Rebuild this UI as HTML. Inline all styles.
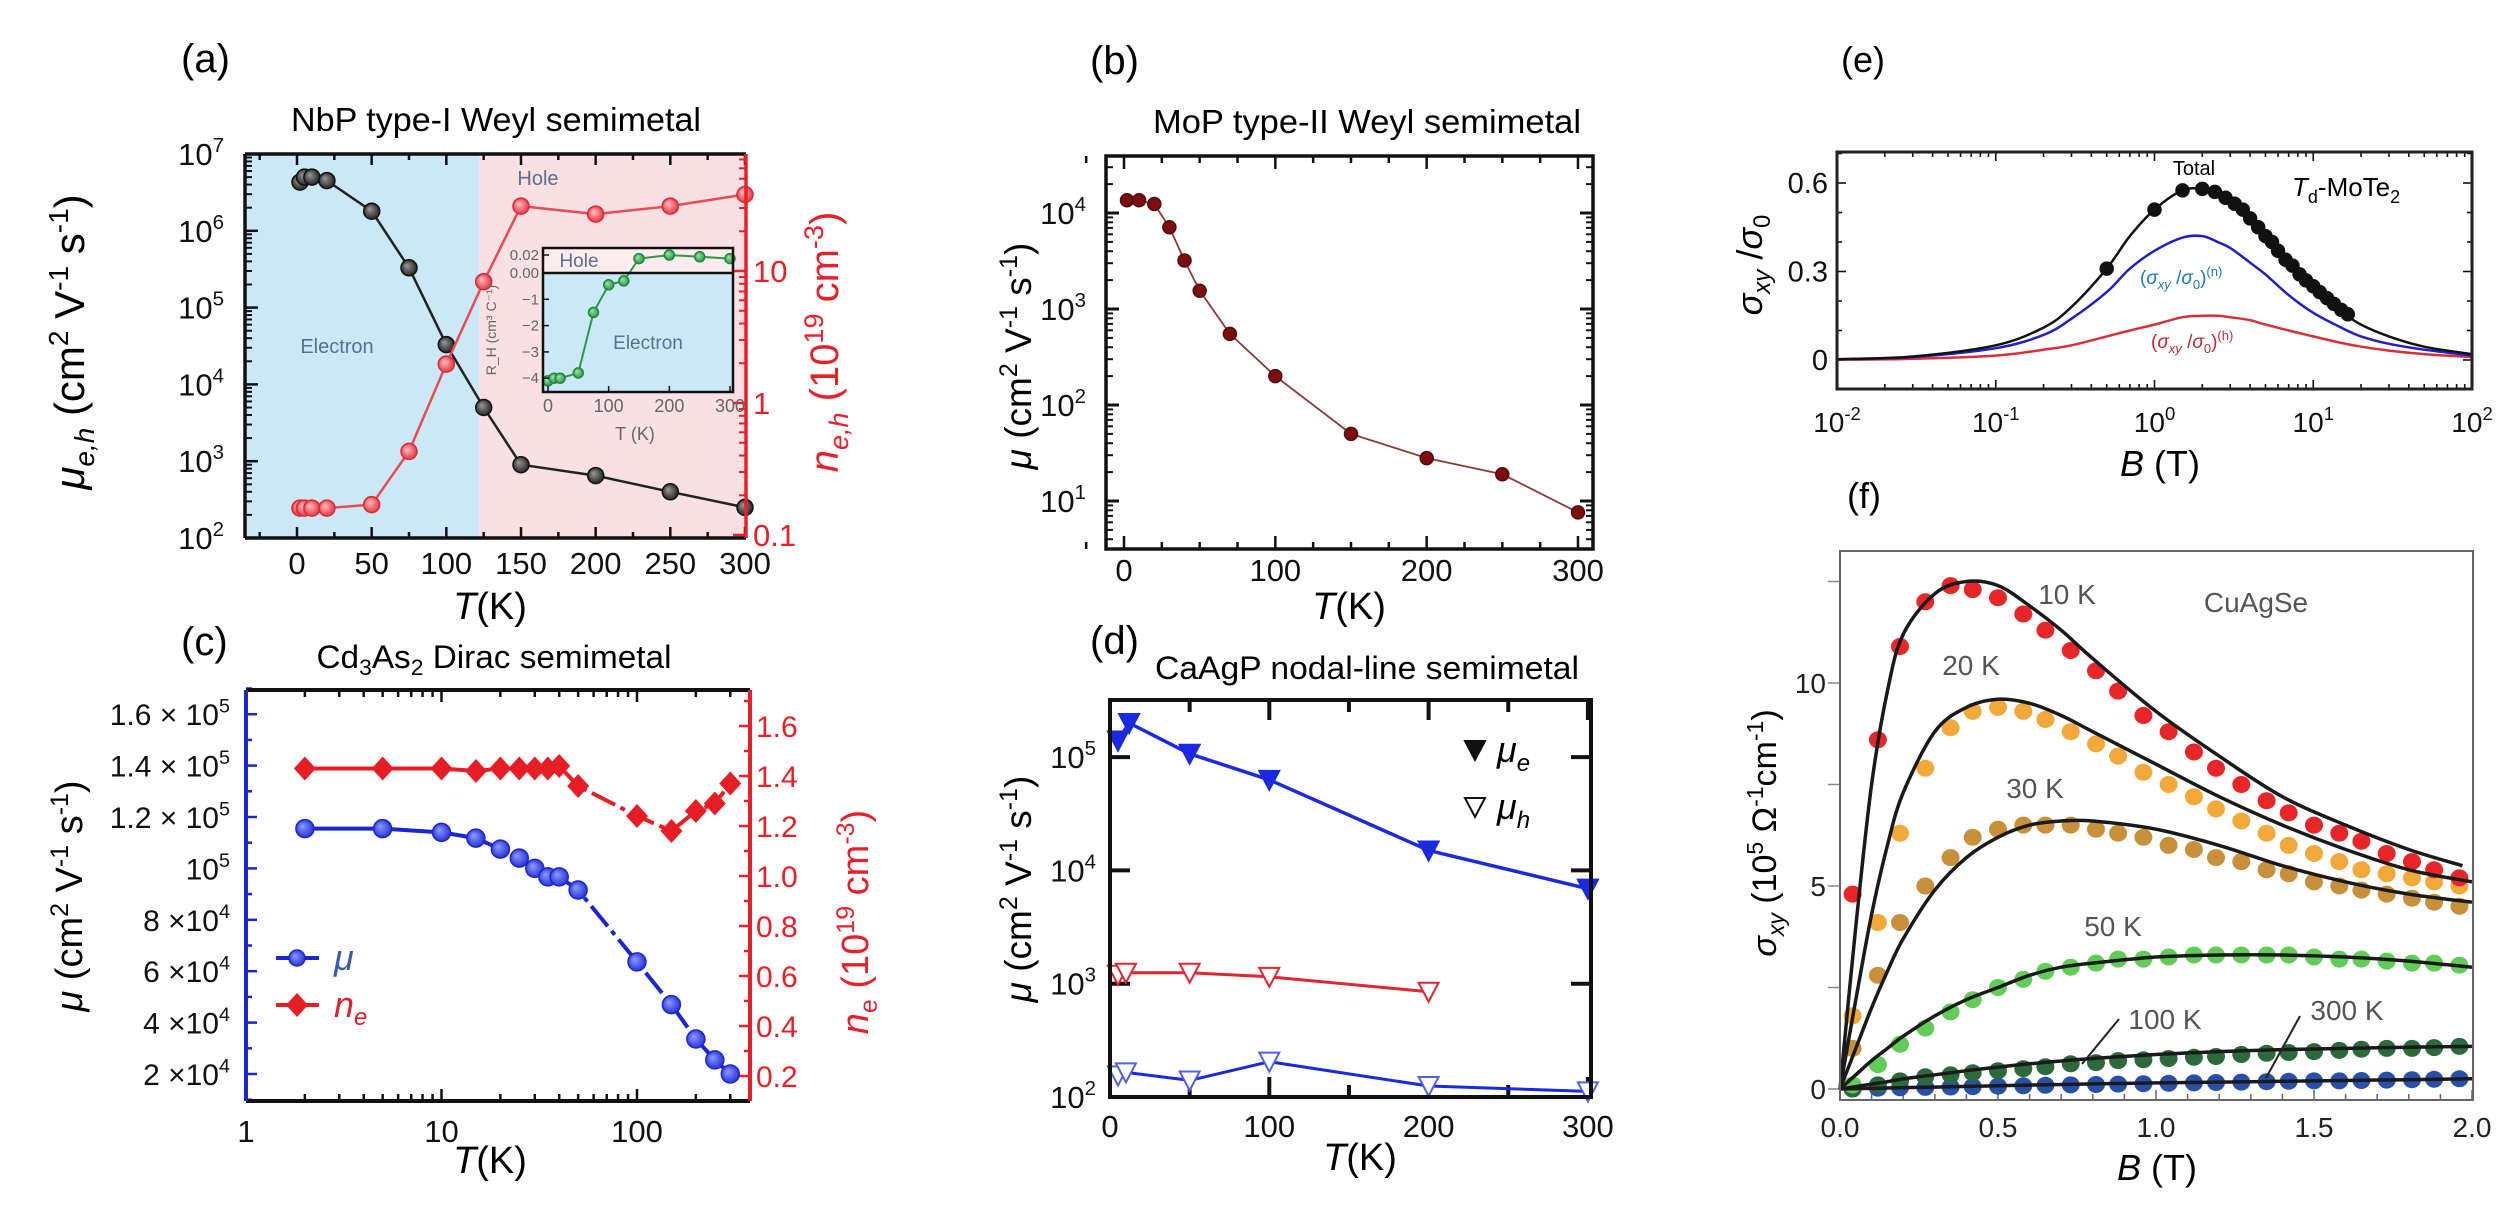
<!DOCTYPE html>
<html><head><meta charset="utf-8"><title>Semimetal mobility figure</title>
<style>
html,body{margin:0;padding:0;background:#fff;}
svg{display:block;font-family:"Liberation Sans",sans-serif;}
</style></head>
<body>
<svg id="fig" xmlns="http://www.w3.org/2000/svg" width="2518" height="1220" viewBox="0 0 2518 1220">
<defs>
<radialGradient id="gBlack" cx="0.5" cy="0.5" r="0.6" fx="0.35" fy="0.35"><stop offset="0" stop-color="#9a9a9a"/><stop offset="1" stop-color="#151515"/></radialGradient>
<radialGradient id="gRed" cx="0.5" cy="0.5" r="0.6" fx="0.35" fy="0.35"><stop offset="0" stop-color="#ffc0c0"/><stop offset="1" stop-color="#e02634"/></radialGradient>
<radialGradient id="gGreen" cx="0.5" cy="0.5" r="0.6" fx="0.35" fy="0.35"><stop offset="0" stop-color="#9fe8a8"/><stop offset="1" stop-color="#1f8a40"/></radialGradient>
<radialGradient id="gBlue" cx="0.5" cy="0.5" r="0.6" fx="0.35" fy="0.35"><stop offset="0" stop-color="#8f9cff"/><stop offset="1" stop-color="#1a26d0"/></radialGradient>
</defs>

<g id="pa">
  <rect x="245" y="154" width="234" height="384" fill="#cbe8f6"/>
  <rect x="479" y="154" width="267" height="384" fill="#f8e0e3"/>
  <text x="181" y="72" font-size="40">(a)</text>
  <text x="496" y="131" font-size="33" text-anchor="middle" textLength="410" lengthAdjust="spacingAndGlyphs">NbP type-I Weyl semimetal</text>
  <text x="337" y="353" font-size="20" fill="#5b6f96" text-anchor="middle">Electron</text>
  <text x="538" y="185" font-size="20" fill="#5b6f96" text-anchor="middle">Hole</text>
  <text transform="translate(84,342) rotate(-90)" font-size="42" text-anchor="middle"><tspan font-style="italic">μ</tspan><tspan font-size="28" dy="10" font-style="italic">e,h</tspan><tspan dy="-10"> (cm</tspan><tspan font-size="28" dy="-16">2</tspan><tspan dy="16"> V</tspan><tspan font-size="28" dy="-16">-1</tspan><tspan dy="16"> s</tspan><tspan font-size="28" dy="-16">-1</tspan><tspan dy="16">)</tspan></text>
  <text transform="translate(838,342) rotate(-90)" font-size="40" fill="#e8202a" text-anchor="middle"><tspan font-style="italic">n</tspan><tspan font-size="27" dy="10" font-style="italic">e,h</tspan><tspan dy="-10"> (10</tspan><tspan font-size="27" dy="-15">19</tspan><tspan dy="15"> cm</tspan><tspan font-size="27" dy="-15">-3</tspan><tspan dy="15">)</tspan></text>
  <text x="490" y="619" font-size="38" text-anchor="middle"><tspan font-style="italic">T</tspan>(K)</text>
</g>

<g id="pb">
  <text x="1090" y="74" font-size="40">(b)</text>
  <text x="1367" y="133" font-size="33" text-anchor="middle" textLength="428" lengthAdjust="spacingAndGlyphs">MoP type-II Weyl semimetal</text>
  <text transform="translate(1031,356) rotate(-90)" font-size="37" text-anchor="middle"><tspan font-style="italic">μ</tspan> (cm<tspan font-size="25" dy="-14">2</tspan><tspan dy="14"> V</tspan><tspan font-size="25" dy="-14">-1</tspan><tspan dy="14"> s</tspan><tspan font-size="25" dy="-14">-1</tspan><tspan dy="14">)</tspan></text>
  <text x="1349" y="619" font-size="38" text-anchor="middle"><tspan font-style="italic">T</tspan>(K)</text>
</g>

<g id="pc">
  <text x="181" y="655" font-size="40">(c)</text>
  <text x="494" y="668" font-size="32" text-anchor="middle" textLength="355" lengthAdjust="spacingAndGlyphs">Cd<tspan font-size="22" dy="7">3</tspan><tspan dy="-7">As</tspan><tspan font-size="22" dy="7">2</tspan><tspan dy="-7"> Dirac semimetal</tspan></text>
  <text transform="translate(82,896) rotate(-90)" font-size="38" text-anchor="middle"><tspan font-style="italic">μ</tspan> (cm<tspan font-size="25" dy="-14">2</tspan><tspan dy="14"> V</tspan><tspan font-size="25" dy="-14">-1</tspan><tspan dy="14"> s</tspan><tspan font-size="25" dy="-14">-1</tspan><tspan dy="14">)</tspan></text>
  <text transform="translate(868,922) rotate(-90)" font-size="38" fill="#e8202a" text-anchor="middle"><tspan font-style="italic">n</tspan><tspan font-size="25" dy="9">e</tspan><tspan dy="-9"> (10</tspan><tspan font-size="25" dy="-14">19</tspan><tspan dy="14"> cm</tspan><tspan font-size="25" dy="-14">-3</tspan><tspan dy="14">)</tspan></text>
  <text x="490" y="1173" font-size="38" text-anchor="middle"><tspan font-style="italic">T</tspan>(K)</text>
</g>

<g id="pd">
  <text x="1090" y="654" font-size="40">(d)</text>
  <text x="1367" y="679" font-size="32" text-anchor="middle" textLength="424" lengthAdjust="spacingAndGlyphs">CaAgP nodal-line semimetal</text>
  <text transform="translate(1031,889) rotate(-90)" font-size="37" text-anchor="middle"><tspan font-style="italic">μ</tspan> (cm<tspan font-size="25" dy="-14">2</tspan><tspan dy="14"> V</tspan><tspan font-size="25" dy="-14">-1</tspan><tspan dy="14"> s</tspan><tspan font-size="25" dy="-14">-1</tspan><tspan dy="14">)</tspan></text>
  <text x="1360" y="1170" font-size="38" text-anchor="middle"><tspan font-style="italic">T</tspan>(K)</text>
  <text x="1497" y="762" font-size="36" font-style="italic">μ<tspan font-size="24" dy="9">e</tspan></text>
  <text x="1497" y="819" font-size="36" font-style="italic">μ<tspan font-size="24" dy="9">h</tspan></text>
</g>

<g id="pe">
  <text x="1841" y="72" font-size="36">(e)</text>
  <text transform="translate(1762,265) rotate(-90)" font-size="36" text-anchor="middle"><tspan font-style="italic">σ</tspan><tspan font-size="24" dy="8" font-style="italic">xy</tspan><tspan dy="-8"> /</tspan><tspan font-style="italic">σ</tspan><tspan font-size="24" dy="8">0</tspan></text>
  <text x="2160" y="476" font-size="36" text-anchor="middle"><tspan font-style="italic">B</tspan> (T)</text>
  <text x="2194" y="175" font-size="20" text-anchor="middle">Total</text>
  <text x="2292" y="196" font-size="26"><tspan font-style="italic">T</tspan><tspan font-size="18" dy="7">d</tspan><tspan dy="-7">-MoTe</tspan><tspan font-size="18" dy="7">2</tspan></text>
  <text x="2140" y="284" font-size="19" fill="#1b7ab0">(<tspan font-style="italic">σ</tspan><tspan font-size="13" dy="5" font-style="italic">xy</tspan><tspan dy="-5"> /</tspan><tspan font-style="italic">σ</tspan><tspan font-size="13" dy="5">0</tspan><tspan dy="-5">)</tspan><tspan font-size="13" dy="-8">(n)</tspan></text>
  <text x="2151" y="348" font-size="19" fill="#c0283a">(<tspan font-style="italic">σ</tspan><tspan font-size="13" dy="5" font-style="italic">xy</tspan><tspan dy="-5"> /</tspan><tspan font-style="italic">σ</tspan><tspan font-size="13" dy="5">0</tspan><tspan dy="-5">)</tspan><tspan font-size="13" dy="-8">(h)</tspan></text>
</g>

<g id="pf">
  <text x="1847" y="508" font-size="36">(f)</text>
  <text transform="translate(1776,833) rotate(-90)" font-size="34" text-anchor="middle"><tspan font-style="italic">σ</tspan><tspan font-size="23" dy="8" font-style="italic">xy</tspan><tspan dy="-8"> (10</tspan><tspan font-size="23" dy="-13">5</tspan><tspan dy="13">  Ω</tspan><tspan font-size="23" dy="-13">-1</tspan><tspan dy="13">cm</tspan><tspan font-size="23" dy="-13">-1</tspan><tspan dy="13">)</tspan></text>
  <text x="2157" y="1180" font-size="36" text-anchor="middle"><tspan font-style="italic">B</tspan> (T)</text>
  <text x="2256" y="612" font-size="28" fill="#555" text-anchor="middle">CuAgSe</text>
</g>

<script>
const aT   = [2, 5, 10, 20, 50, 75, 100, 125, 150, 200, 250, 300];
const aMu  = [4.3e6, 5e6, 5e6, 4.5e6, 1.8e6, 3.3e5, 3.3e4, 5e3, 9e2, 6.5e2, 4e2, 2.5e2];
const aN   = [0.16, 0.16, 0.16, 0.16, 0.17, 0.43, 1.97, 8.3, 31, 27, 31, 38];
const aXTicks = [0, 50, 100, 150, 200, 250, 300];
const aYDecades = [2, 3, 4, 5, 6, 7];
const aRTicks = ["0.1", "1", "10"];
const insetT = [0, 10, 20, 50, 75, 100, 125, 150, 200, 250, 300];
const insetR = [-4.1, -4.0, -4.0, -3.8, -1.5, -0.45, -0.3, 0.016, 0.02, 0.018, 0.016];
const bT  = [2, 10, 20, 30, 40, 50, 70, 100, 150, 200, 250, 300];
const bMu = [1.36e4, 1.36e4, 1.24e4, 7.1e3, 3.2e3, 1.55e3, 550, 200, 50, 28, 19, 7.6];
const bXTicks = [0, 100, 200, 300];
const bYDecades = [1, 2, 3, 4];
const cT  = [2, 5, 10, 15, 20, 25, 30, 35, 40, 50, 100, 150, 200, 250, 300];
const cMu = [1.155e5, 1.155e5, 1.14e5, 1.118e5, 1.075e5, 1.04e5, 1.0e5, 9.67e4, 9.67e4, 9.16e4, 6.36e4, 4.7e4, 3.36e4, 2.55e4, 2.0e4];
const cN  = [1.43, 1.43, 1.43, 1.42, 1.43, 1.43, 1.43, 1.43, 1.44, 1.36, 1.24, 1.18, 1.26, 1.29, 1.37];
const cXTicks = ["1", "10", "100"];
const cYTicks = [2e4, 4e4, 6e4, 8e4, 1e5, 1.2e5, 1.4e5, 1.6e5];
const cYLabels = ["2 ×10", "4 ×10", "6 ×10", "8 ×10", "10", "1.2 × 10", "1.4 × 10", "1.6 × 10"];
const cYExp = ["4", "4", "4", "4", "5", "5", "5", "5"];
const cRTicks = [0.2, 0.4, 0.6, 0.8, 1.0, 1.2, 1.4, 1.6];
const dTe  = [5, 12, 50, 100, 200, 300];
const dMuE = [1.4e5, 2.0e5, 1.07e5, 6.3e4, 1.5e4, 6.9e3];
const dTh1 = [5, 10, 50, 100, 200];
const dMuH1 = [1200, 1250, 1250, 1150, 850];
const dTh2 = [5, 10, 50, 100, 200, 300];
const dMuH2 = [155, 165, 140, 205, 125, 112];
const dXTicks = [0, 100, 200, 300];
const dYDecades = [2, 3, 4, 5];
const eB     = [0.01, 0.03, 0.1, 0.2, 0.3, 0.5, 0.7, 1, 1.5, 2, 2.5, 3, 4, 5, 7, 10, 15, 20, 30, 50, 100];
const eTotal = [0.003, 0.012, 0.05, 0.11, 0.18, 0.31, 0.42, 0.51, 0.575, 0.58, 0.57, 0.54, 0.48, 0.42, 0.33, 0.25, 0.165, 0.12, 0.08, 0.045, 0.02];
const eElec  = [0.002, 0.01, 0.04, 0.085, 0.14, 0.23, 0.31, 0.37, 0.415, 0.42, 0.40, 0.38, 0.33, 0.29, 0.22, 0.16, 0.11, 0.08, 0.055, 0.035, 0.015];
const eHole  = [0.001, 0.004, 0.015, 0.035, 0.05, 0.08, 0.10, 0.12, 0.145, 0.15, 0.15, 0.145, 0.135, 0.12, 0.10, 0.08, 0.058, 0.045, 0.032, 0.02, 0.01];
const eDotB  = [0.5, 1.0, 1.5, 2.0, 2.4, 2.8, 3.2, 3.6, 4.0, 4.5, 5.0, 5.5, 6.0, 6.7, 7.4, 8.2, 9.0, 10, 11, 12.2, 13.5, 15, 16.5];
const eDotV  = [0.31, 0.51, 0.575, 0.58, 0.57, 0.55, 0.53, 0.51, 0.48, 0.45, 0.42, 0.40, 0.37, 0.34, 0.32, 0.29, 0.27, 0.25, 0.23, 0.21, 0.19, 0.17, 0.155];
const eXExp = ["-2", "-1", "0", "1", "2"];
const eYTicks = [0, 0.3, 0.6];
const fFitB = [0, 0.05, 0.1, 0.15, 0.2, 0.3, 0.4, 0.5, 0.6, 0.7, 0.8, 1.0, 1.2, 1.4, 1.6, 1.8, 1.97];
const fFit10  = [0, 4, 7.5, 9.8, 11.2, 12.2, 12.5, 12.4, 11.9, 11.3, 10.6, 9.3, 8.2, 7.2, 6.5, 5.9, 5.5];
const fFit20  = [0, 2.2, 4.3, 6.0, 7.3, 8.8, 9.4, 9.6, 9.5, 9.2, 8.8, 8.0, 7.2, 6.5, 5.9, 5.4, 5.1];
const fFit30  = [0, 1.0, 2.0, 2.9, 3.7, 4.9, 5.7, 6.2, 6.5, 6.6, 6.6, 6.4, 6.0, 5.5, 5.1, 4.8, 4.6];
const fFit50  = [0, 0.35, 0.7, 1.0, 1.3, 1.8, 2.2, 2.5, 2.8, 3.0, 3.1, 3.25, 3.3, 3.3, 3.25, 3.15, 3.0];
const fFit100 = [0, 0.06, 0.12, 0.18, 0.25, 0.35, 0.45, 0.54, 0.62, 0.69, 0.75, 0.85, 0.92, 0.97, 1.0, 1.03, 1.05];
const fFit300 = [0, 0.008, 0.016, 0.024, 0.032, 0.048, 0.064, 0.08, 0.095, 0.11, 0.125, 0.15, 0.17, 0.19, 0.21, 0.23, 0.25];
const fDotB = [0.04, 0.12, 0.19, 0.27, 0.35, 0.42, 0.50, 0.58, 0.65, 0.73, 0.81, 0.88, 0.96, 1.04, 1.12, 1.19, 1.27, 1.35, 1.42, 1.50, 1.58, 1.65, 1.73, 1.81, 1.88, 1.96];
const fDot10  = [4.8, 8.6, 10.9, 12.0, 12.4, 12.3, 12.1, 11.7, 11.3, 10.8, 10.3, 9.8, 9.2, 8.8, 8.3, 7.9, 7.5, 7.1, 6.8, 6.5, 6.3, 6.1, 5.8, 5.6, 5.4, 5.2];
const fDot20  = [1.8, 4.1, 6.3, 7.9, 8.9, 9.3, 9.4, 9.3, 9.1, 8.8, 8.5, 8.2, 7.8, 7.5, 7.2, 6.9, 6.6, 6.3, 6.0, 5.8, 5.6, 5.4, 5.3, 5.2, 5.1, 5.0];
const fDot30  = [1.0, 2.8, 4.1, 5.0, 5.7, 6.2, 6.4, 6.5, 6.5, 6.5, 6.4, 6.3, 6.2, 6.0, 5.9, 5.7, 5.6, 5.4, 5.3, 5.1, 5.0, 4.9, 4.8, 4.7, 4.6, 4.5];
const fDot50  = [0.1, 0.6, 1.1, 1.5, 1.9, 2.2, 2.5, 2.7, 2.9, 3.0, 3.1, 3.2, 3.2, 3.25, 3.3, 3.3, 3.3, 3.3, 3.3, 3.25, 3.2, 3.2, 3.15, 3.1, 3.1, 3.05];
const fDot100 = [0, 0.1, 0.2, 0.3, 0.35, 0.4, 0.45, 0.5, 0.55, 0.62, 0.65, 0.7, 0.72, 0.75, 0.78, 0.8, 0.85, 0.88, 0.9, 0.92, 0.95, 0.98, 1.0, 1.0, 1.02, 1.05];
const fDot300 = [0, 0.02, 0.03, 0.04, 0.05, 0.06, 0.07, 0.08, 0.09, 0.1, 0.11, 0.12, 0.13, 0.14, 0.15, 0.16, 0.17, 0.18, 0.19, 0.2, 0.2, 0.21, 0.22, 0.23, 0.24, 0.25];
const fXTicks = ["0.0", "0.5", "1.0", "1.5", "2.0"];
const fYTicks = [0, 5, 10];

const NS = 'http://www.w3.org/2000/svg';
const L = Math.log10;
function el(tag, attrs, parent) {
  const e = document.createElementNS(NS, tag);
  for (const k in attrs) e.setAttribute(k, attrs[k]);
  parent.appendChild(e);
  return e;
}
function line(g, x1, y1, x2, y2, stroke, w, name) {
  const e = el('line', {x1: x1, y1: y1, x2: x2, y2: y2, stroke: stroke, 'stroke-width': w}, g);
  
  
  return e;
}
function txt(g, x, y, s, size, anchor, fill, name) {
  const e = el('text', {x: x, y: y, 'font-size': size, 'text-anchor': anchor, fill: fill}, g);
  e.textContent = s;
  
  
  return e;
}
function pow(g, x, y, base, ex, size, anchor, fill, name) {
  const e = el('text', {x: x, y: y, 'font-size': size, 'text-anchor': anchor, fill: fill}, g);
  const t1 = el('tspan', {}, e); t1.textContent = base;
  const t2 = el('tspan', {dy: -size * 0.42, 'font-size': size * 0.66}, e); t2.textContent = ex;
  
  
  return e;
}
function path(g, d, stroke, w, name, dash) {
  const e = el('path', {d: d, fill: 'none', stroke: stroke, 'stroke-width': w, 'stroke-linejoin': 'round'}, g);
  if (dash) e.setAttribute('stroke-dasharray', dash);
  
  
  return e;
}
function poly(pts) { return 'M' + pts.map(p => p[0].toFixed(1) + ',' + p[1].toFixed(1)).join(' L'); }
function smooth(pts) {
  let d = 'M' + pts[0][0].toFixed(1) + ',' + pts[0][1].toFixed(1);
  for (let i = 0; i < pts.length - 1; i++) {
    const p0 = pts[Math.max(i - 1, 0)], p1 = pts[i], p2 = pts[i + 1], p3 = pts[Math.min(i + 2, pts.length - 1)];
    const c1 = [p1[0] + (p2[0] - p0[0]) / 6, p1[1] + (p2[1] - p0[1]) / 6];
    const c2 = [p2[0] - (p3[0] - p1[0]) / 6, p2[1] - (p3[1] - p1[1]) / 6];
    d += ' C' + c1[0].toFixed(1) + ',' + c1[1].toFixed(1) + ' ' + c2[0].toFixed(1) + ',' + c2[1].toFixed(1) + ' ' + p2[0].toFixed(1) + ',' + p2[1].toFixed(1);
  }
  return d;
}
function circ(g, x, y, r, fill, stroke, name) {
  const e = el('circle', {cx: x.toFixed(1), cy: y.toFixed(1), r: r, fill: fill, stroke: stroke, 'stroke-width': 1.5}, g);
  
  
  return e;
}
function logMinors(d0, d1) { const out = []; for (let d = d0; d < d1; d++) for (let k = 2; k <= 9; k++) out.push(k * Math.pow(10, d)); return out; }

// (a)
{
  const g = document.getElementById('pa');
  const xa = T => 297 + T * 1.4933;
  const ya = v => 538 - (L(v) - 2) * 76.8;
  const yr = n => 535 - (L(n) + 1) * 132;
  for (let T = -25; T <= 300; T += 25) {
    const len = (T % 50 === 0) ? 11 : 6;
    line(g, xa(T), 538, xa(T), 538 - len, '#111', 2.5, 'x-tick-a');
    line(g, xa(T), 154, xa(T), 154 + len, '#111', 2.5, 'x-tick-top-a');
  }
  aXTicks.forEach(T => txt(g, xa(T), 574, String(T), 31, 'middle', '#111', 'x-tick-label-a'));
  aYDecades.forEach(d => {
    line(g, 245, ya(Math.pow(10, d)), 258, ya(Math.pow(10, d)), '#111', 2.5, 'y-tick-a');
    pow(g, 224, ya(Math.pow(10, d)) + 11, '10', String(d), 31, 'end', '#111', 'y-tick-label-a');
  });
  logMinors(2, 7).forEach(v => line(g, 245, ya(v), 252, ya(v), '#111', 2, 'y-minor-tick-a'));
  [0.1, 1, 10].forEach((n, i) => {
    line(g, 746, yr(n), 733, yr(n), '#e8202a', 2.5, 'y-right-tick-a');
    txt(g, 753, yr(n) + 11, aRTicks[i], 31, 'start', '#e8202a', 'y-right-tick-label-a');
  });
  logMinors(-1, 2).filter(n => yr(n) > 154).forEach(n => line(g, 746, yr(n), 739, yr(n), '#e8202a', 2, 'y-right-minor-tick-a'));
  path(g, poly(aT.map((t, i) => [xa(t), ya(aMu[i])])), '#222', 2.5, 'mobility-line-a');
  aT.forEach((t, i) => circ(g, xa(t), ya(aMu[i]), 8, 'url(#gBlack)', '#111', 'mobility-point-a'));
  path(g, poly(aT.map((t, i) => [xa(t), yr(aN[i])])), '#ec4a55', 2.5, 'density-line-a');
  aT.forEach((t, i) => circ(g, xa(t), yr(aN[i]), 8, 'url(#gRed)', '#e02634', 'density-point-a'));
  line(g, 245, 154, 746, 154, '#111', 3.5, 'frame-top-a');
  line(g, 245, 538, 746, 538, '#111', 3.5, 'frame-bottom-a');
  line(g, 245, 154, 245, 538, '#111', 3.5, 'frame-left-a');
  line(g, 746, 154, 746, 538, '#e8202a', 3.5, 'frame-right-a');
  const ig = el('g', {}, g);
  
  
  const xi = T => 548 + T * 0.6067;
  const yi = v => v >= 0 ? 273 - v * 900 : 273 - v * 26.3;
  const r1 = el('rect', {x: 543, y: 273, width: 190, height: 119, fill: '#cbe8f6'}, ig);
  
  
  const r2 = el('rect', {x: 543, y: 248, width: 190, height: 25, fill: '#fbecee'}, ig);
  
  
  path(ig, poly(insetT.map((t, i) => [xi(t), yi(insetR[i])])), '#2a9a4a', 2, 'inset-line');
  insetT.forEach((t, i) => circ(ig, xi(t), yi(insetR[i]), 5, 'url(#gGreen)', '#1f8a40', 'inset-point'));
  const r3 = el('rect', {x: 543, y: 248, width: 190, height: 144, fill: 'none', stroke: '#111', 'stroke-width': 2.5}, ig);
  
  
  line(ig, 543, 273, 733, 273, '#111', 2.5, 'inset-break-line');
  [['0.02', 0.02], ['0.00', 0], ['−1', -1], ['−2', -2], ['−3', -3], ['−4', -4]].forEach(p => {
    txt(ig, 539, yi(p[1]) + 5, p[0], 15, 'end', '#666', 'inset-y-tick-label');
    line(ig, 543, yi(p[1]), 549, yi(p[1]), '#111', 1.5, 'inset-y-tick');
  });
  [0, 100, 200, 300].forEach(T => {
    txt(ig, xi(T), 412, String(T), 18, 'middle', '#666', 'inset-x-tick-label');
    line(ig, xi(T), 392, xi(T), 386, '#111', 1.5, 'inset-x-tick');
  });
  txt(ig, 635, 440, 'T (K)', 18, 'middle', '#666', 'inset-x-title');
  const it = txt(ig, 0, 0, 'R_H (cm³ C⁻¹)', 14, 'middle', '#666', 'inset-y-title');
  it.setAttribute('transform', 'translate(496,330) rotate(-90)');
  txt(ig, 579, 267, 'Hole', 19, 'middle', '#5b6f96', 'inset-hole-label');
  txt(ig, 648, 349, 'Electron', 19, 'middle', '#5b6f96', 'inset-electron-label');
}

// (b)
{
  const g = document.getElementById('pb');
  const xb = T => 1124 + T * 1.5133;
  const yb = v => 213 - (L(v) - 4) * 96;
  for (let T = -25; T <= 300; T += 25) {
    const len = (T % 100 === 0) ? 13 : 7;
    line(g, xb(T), 549, xb(T), 549 - len, '#111', 2.5, 'x-tick-b');
    line(g, xb(T), 156, xb(T), 156 + len, '#111', 2.5, 'x-tick-top-b');
  }
  bXTicks.forEach(T => txt(g, xb(T), 581, String(T), 31, 'middle', '#111', 'x-tick-label-b'));
  bYDecades.forEach(d => {
    const y = yb(Math.pow(10, d));
    line(g, 1106, y, 1119, y, '#111', 3, 'y-tick-b');
    line(g, 1593, y, 1580, y, '#111', 3, 'y-tick-right-b');
    pow(g, 1086, y + 11, '10', String(d), 31, 'end', '#111', 'y-tick-label-b');
  });
  logMinors(0, 5).filter(v => yb(v) > 156 && yb(v) < 549).forEach(v => {
    line(g, 1106, yb(v), 1113, yb(v), '#111', 2, 'y-minor-tick-b');
    line(g, 1593, yb(v), 1586, yb(v), '#111', 2, 'y-minor-tick-right-b');
  });
  path(g, poly(bT.map((t, i) => [xb(t), yb(bMu[i])])), '#8b3a3a', 1.8, 'mobility-line-b');
  bT.forEach((t, i) => circ(g, xb(t), yb(bMu[i]), 6.5, '#7a0e12', '#5a0a0a', 'mobility-point-b'));
  const fr = el('rect', {x: 1106, y: 156, width: 487, height: 393, fill: 'none', stroke: '#111', 'stroke-width': 3.5}, g);
  
  
}

// (c)
{
  const g = document.getElementById('pc');
  const xc = T => 246 + L(T) * 195.5;
  const yc = v => 1074 - (v - 2e4) / 2e4 * 51.4;
  const yr = n => 1076 - (n - 0.2) * 250;
  logMinors(0, 3).concat([1, 10, 100]).filter(T => xc(T) < 750).forEach(T => {
    const major = [1, 10, 100].indexOf(T) >= 0;
    const len = major ? 12 : 7;
    line(g, xc(T), 1101, xc(T), 1101 - len, '#111', 2.5, 'x-tick-c');
    line(g, xc(T), 690, xc(T), 690 + len, '#111', 2.5, 'x-tick-top-c');
  });
  [1, 10, 100].forEach((T, i) => txt(g, xc(T), 1142, cXTicks[i], 31, 'middle', '#111', 'x-tick-label-c'));
  for (let v = 1e4; v <= 1.7e5; v += 1e4) {
    const major = Math.round(v / 1e4) % 2 === 0;
    line(g, 246, yc(v), 246 + (major ? 11 : 6), yc(v), '#1a26d0', 2.5, 'y-tick-c');
  }
  cYTicks.forEach((v, i) => pow(g, 230, yc(v) + 11, cYLabels[i], cYExp[i], 30, 'end', '#111', 'y-tick-label-c'));
  for (let n = 1; n <= 17; n++) {
    const v = n / 10;
    line(g, 750, yr(v), 750 - (n % 2 === 0 ? 11 : 6), yr(v), '#e8202a', 2.5, 'y-right-tick-c');
  }
  cRTicks.forEach(n => txt(g, 756, yr(n) + 11, n.toFixed(1), 30, 'start', '#e8202a', 'y-right-tick-label-c'));
  const muPts = cT.map((t, i) => [xc(t), yc(cMu[i])]);
  path(g, poly(muPts.slice(0, 3)), '#1a26d0', 4, 'mobility-line-c');
  path(g, poly(muPts.slice(2)), '#1a26d0', 4, 'mobility-line-dashed-c', '26,6,5,6');
  cT.forEach((t, i) => circ(g, xc(t), yc(cMu[i]), 9, 'url(#gBlue)', '#1a26d0', 'mobility-point-c'));
  const nPts = cT.map((t, i) => [xc(t), yr(cN[i])]);
  path(g, poly(nPts.slice(0, 9)), '#e51e25', 4, 'density-line-c');
  path(g, poly(nPts.slice(8)), '#e51e25', 4, 'density-line-dashed-c', '26,6,5,6');
  cT.forEach((t, i) => {
    const x = xc(t), y = yr(cN[i]);
    const d = el('path', {d: `M${x},${y - 12} L${x + 11},${y} L${x},${y + 12} L${x - 11},${y} Z`, fill: '#e51e25'}, g);
    
    
  });
  line(g, 276, 958, 319, 958, '#1a26d0', 4, 'legend-mu-line');
  circ(g, 297, 958, 8, 'url(#gBlue)', '#1a26d0', 'legend-mu-marker');
  const lm = txt(g, 334, 970, 'μ', 36, 'start', '#3a5ab0', 'legend-mu-label');
  lm.setAttribute('font-style', 'italic');
  line(g, 276, 1005, 319, 1005, '#e51e25', 4, 'legend-ne-line');
  const ld = el('path', {d: 'M297,993 L308,1005 L297,1017 L286,1005 Z', fill: '#e51e25'}, g);
  
  
  const ln = el('text', {x: 334, y: 1017, 'font-size': 36, fill: '#e51e25', 'font-style': 'italic'}, g);
  const ln1 = el('tspan', {}, ln); ln1.textContent = 'n';
  const ln2 = el('tspan', {'font-size': 24, dy: 8}, ln); ln2.textContent = 'e';
  
  
  line(g, 246, 690, 750, 690, '#111', 4, 'frame-top-c');
  line(g, 246, 1101, 750, 1101, '#111', 4, 'frame-bottom-c');
  line(g, 246, 690, 246, 1101, '#1a26d0', 4, 'frame-left-c');
  line(g, 750, 690, 750, 1101, '#e8202a', 4, 'frame-right-c');
}

// (d)
{
  const g = document.getElementById('pd');
  const xd = T => 1110 + T * 1.593;
  const yd = v => 1097 - (L(v) - 2) * 113.3;
  [0, 50, 100, 150, 200, 250, 300].forEach(T => {
    const major = T % 100 === 0;
    line(g, xd(T), 1097, xd(T), 1097 - (major ? 20 : 12), '#111', 4, 'x-tick-d');
    line(g, xd(T), 700, xd(T), 700 + (major ? 20 : 12), '#111', 4, 'x-tick-top-d');
  });
  dXTicks.forEach(T => txt(g, xd(T), 1137, String(T), 31, 'middle', '#111', 'x-tick-label-d'));
  dYDecades.forEach(d => {
    const y = yd(Math.pow(10, d));
    line(g, 1110, y, 1130, y, '#111', 4, 'y-tick-d');
    line(g, 1591, y, 1571, y, '#111', 4, 'y-tick-right-d');
    pow(g, 1096, y + 11, '10', String(d), 31, 'end', '#111', 'y-tick-label-d');
  });
  const tri = (x, y, fill, stroke, name) => {
    const e = el('path', {d: `M${x - 10},${y - 9} L${x + 10},${y - 9} L${x},${y + 10} Z`, fill: fill, stroke: stroke, 'stroke-width': 2}, g);
    
    
  };
  path(g, poly(dTe.map((t, i) => [xd(t), yd(dMuE[i])])), '#1a2ae0', 3.5, 'electron-line-d');
  dTe.forEach((t, i) => tri(xd(t), yd(dMuE[i]), '#1a2ae0', '#1a2ae0', 'electron-point-d'));
  path(g, poly(dTh1.map((t, i) => [xd(t), yd(dMuH1[i])])), '#e02630', 3, 'hole-line-red-d');
  dTh1.forEach((t, i) => tri(xd(t), yd(dMuH1[i]), '#fff', '#e02630', 'hole-point-red-d'));
  path(g, poly(dTh2.map((t, i) => [xd(t), yd(dMuH2[i])])), '#1a2ae0', 3, 'hole-line-blue-d');
  dTh2.forEach((t, i) => tri(xd(t), yd(dMuH2[i]), '#fff', '#5060e8', 'hole-point-blue-d'));
  tri(1475, 750, '#111', '#111', 'legend-mue-marker');
  tri(1475, 807, '#fff', '#111', 'legend-muh-marker');
  const fr = el('rect', {x: 1110, y: 700, width: 481, height: 397, fill: 'none', stroke: '#111', 'stroke-width': 4}, g);
  
  
}

// (e)
{
  const g = document.getElementById('pe');
  const xe = B => 1837 + (L(B) + 2) * 158.75;
  const ye = v => 360 - v * 295;
  logMinors(-2, 2).concat([0.01, 0.1, 1, 10, 100]).forEach(B => {
    const major = Math.abs(L(B) - Math.round(L(B))) < 1e-9;
    const len = major ? 9 : 5;
    line(g, xe(B), 389, xe(B), 389 - len, '#111', 1.6, 'x-tick-e');
    line(g, xe(B), 152, xe(B), 152 + len, '#111', 1.6, 'x-tick-top-e');
  });
  eXExp.forEach(ex => pow(g, xe(Math.pow(10, +ex)), 432, '10', ex, 28, 'middle', '#111', 'x-tick-label-e'));
  for (let k = -1; k <= 7; k++) {
    const v = k / 10;
    const len = (k % 3 === 0) ? 9 : 5;
    line(g, 1837, ye(v), 1837 + len, ye(v), '#111', 1.6, 'y-tick-e');
    line(g, 2472, ye(v), 2472 - len, ye(v), '#111', 1.6, 'y-tick-right-e');
  }
  eYTicks.forEach(v => txt(g, 1828, ye(v) + 10, v === 0 ? '0' : v.toFixed(1), 29, 'end', '#111', 'y-tick-label-e'));
  path(g, smooth(eB.map((b, i) => [xe(b), ye(eHole[i])])), '#d8303a', 2.5, 'hole-curve-e');
  path(g, smooth(eB.map((b, i) => [xe(b), ye(eElec[i])])), '#2020c8', 2.5, 'electron-curve-e');
  path(g, smooth(eB.map((b, i) => [xe(b), ye(eTotal[i])])), '#111', 2.5, 'total-curve-e');
  eDotB.forEach((b, i) => circ(g, xe(b), ye(eDotV[i]), 6.5, '#111', '#111', 'total-point-e'));
  const fr = el('rect', {x: 1837, y: 152, width: 635, height: 237, fill: 'none', stroke: '#222', 'stroke-width': 3}, g);
  
  
}

// (f)
{
  const g = document.getElementById('pf');
  const xf = B => 1840 + B * 316;
  const yf = v => 1089 - v * 40.6;
  for (let k = 0; k <= 20; k++) {
    const B = k / 10;
    line(g, xf(B), 1100, xf(B), 1100 - (k % 5 === 0 ? 10 : 6), '#666', 1.5, 'x-tick-f');
  }
  fXTicks.forEach(s => txt(g, xf(+s), 1137, s, 28, 'middle', '#222', 'x-tick-label-f'));
  [0, 2.5, 5, 7.5, 10, 12.5].forEach(v => line(g, 1828, yf(v), 1840, yf(v), '#888', 1.5, 'y-tick-f'));
  fYTicks.forEach(v => txt(g, 1826, yf(v) + 10, String(v), 28, 'end', '#222', 'y-tick-label-f'));
  const dots = [[fDot300, '#2a4fa8'], [fDot100, '#2c6a3c'], [fDot50, '#62cc58'], [fDot30, '#c8903a'], [fDot20, '#f2a93a'], [fDot10, '#e8262a']];
  const dnames = ['dots-300k', 'dots-100k', 'dots-50k', 'dots-30k', 'dots-20k', 'dots-10k'];
  dots.forEach((s, j) => {
    s[0].forEach((v, i) => {
      const c = el('ellipse', {cx: xf(fDotB[i]).toFixed(1), cy: yf(v).toFixed(1), rx: 9, ry: 8.5, fill: s[1]}, g);
      
      
    });
  });
  [[fFit10, 'fit-10k'], [fFit20, 'fit-20k'], [fFit30, 'fit-30k'], [fFit50, 'fit-50k'], [fFit100, 'fit-100k'], [fFit300, 'fit-300k']].forEach(s => {
    const pts = s[0].map((v, i) => [xf(fFitB[i] === 1.97 && s[1] !== 'fit-10k' ? 2.0 : fFitB[i]), yf(v)]);
    path(g, smooth(pts), '#1a1a1a', 3.5, s[1]);
  });
  txt(g, 2067, 604, '10 K', 28, 'middle', '#555', 'label-10k');
  txt(g, 1971, 675, '20 K', 28, 'middle', '#555', 'label-20k');
  txt(g, 2035, 798, '30 K', 28, 'middle', '#555', 'label-30k');
  txt(g, 2113, 936, '50 K', 28, 'middle', '#555', 'label-50k');
  txt(g, 2165, 1029, '100 K', 28, 'middle', '#555', 'label-100k');
  txt(g, 2347, 1020, '300 K', 28, 'middle', '#555', 'label-300k');
  line(g, 2119, 1019, 2082, 1064, '#222', 2, 'leader-100k');
  line(g, 2300, 1016, 2266, 1078, '#222', 2, 'leader-300k');
  const fr = el('rect', {x: 1840, y: 551, width: 633, height: 549, fill: 'none', stroke: '#666', 'stroke-width': 2}, g);
  
  
}
</script>
</svg>
</body></html>
